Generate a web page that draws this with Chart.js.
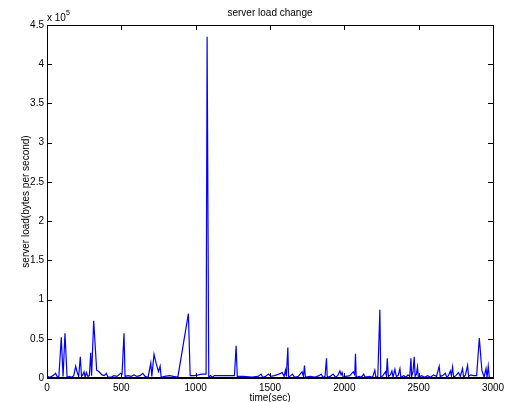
<!DOCTYPE html>
<html>
<head>
<meta charset="utf-8">
<script src="https://cdn.jsdelivr.net/npm/chart.js@4"></script>
<style>
    body { margin: 0; background: #fff; }
    #loadchart { display: block; }
</style>
</head>
<body>
<canvas id="loadchart" width="514" height="402"></canvas>
<script>
// time (sec) and server load (bytes per second)
var times = [0, 20, 40, 58, 70, 80, 96, 108, 121, 135, 150, 165, 180, 193, 205, 213, 224, 232, 240, 249,
    256, 265, 275, 285, 294, 300, 314, 334, 350, 370, 385, 399, 410, 430, 450, 470, 496, 505, 518, 525,
    545, 565, 585, 605, 625, 644, 660, 680, 698, 705, 720, 735, 750, 761, 768, 790, 825, 850, 880, 951,
    963, 990, 1018, 1040, 1070, 1077, 1088, 1100, 1113, 1126, 1180, 1261, 1272, 1280, 1320, 1380, 1420, 1440, 1450, 1470,
    1490, 1505, 1530, 1560, 1582, 1595, 1604, 1610, 1620, 1625, 1640, 1650, 1665, 1690, 1716, 1725, 1732, 1738, 1770, 1800,
    1830, 1845, 1855, 1870, 1880, 1885, 1905, 1925, 1940, 1955, 1970, 1978, 1985, 1992, 2010, 2037, 2060, 2070, 2075, 2080,
    2100, 2115, 2130, 2140, 2170, 2190, 2205, 2212, 2225, 2239, 2245, 2260, 2277, 2283, 2289, 2296, 2310, 2320, 2328, 2340,
    2350, 2362, 2374, 2380, 2400, 2415, 2428, 2440, 2448, 2453, 2462, 2470, 2476, 2485, 2492, 2498, 2520, 2540, 2560, 2580,
    2600, 2620, 2638, 2645, 2660, 2680, 2688, 2700, 2713, 2720, 2728, 2735, 2750, 2768, 2780, 2795, 2802, 2815, 2829, 2836,
    2850, 2870, 2890, 2908, 2925, 2940, 2953, 2960, 2968, 2975, 2985];
var loads = [2000, 1000, 3000, 6000, 1000, 2000, 52000, 2000, 57000, 1000, 2000, 1000, 3000, 15000, 6000, 2000, 27000, 2000, 4000, 8000,
    1000, 7000, 2000, 3000, 32000, 3000, 73000, 10000, 8000, 4000, 3000, 6000, 1000, 1000, 3000, 2000, 6000, 5000, 57000, 2000,
    3000, 2000, 4000, 2000, 3000, 6000, 2000, 1000, 19000, 2000, 30000, 18000, 8000, 15000, 1000, 2000, 3000, 2000, 1000, 82000,
    3000, 3000, 4000, 5000, 5000, 435000, 1000, 3000, 1000, 3000, 3000, 3000, 41000, 2000, 2000, 1000, 2000, 5000, 1000, 2000,
    5000, 2000, 3000, 5000, 7000, 2000, 10000, 2000, 39000, 1000, 3000, 5000, 1000, 2000, 8000, 2000, 16000, 1000, 2000, 1000,
    3000, 5000, 1000, 2000, 25000, 1000, 2000, 5000, 1000, 3000, 9000, 4000, 7000, 1000, 2000, 3000, 8000, 4000, 31000, 1000,
    2000, 1000, 5000, 1000, 2000, 1000, 10000, 1000, 2000, 87000, 1000, 3000, 8000, 3000, 25000, 2000, 4000, 9000, 1000, 11000,
    2000, 3000, 12000, 1000, 3000, 1000, 4000, 2000, 25000, 2000, 8000, 27000, 2000, 5000, 14000, 1000, 3000, 1000, 3000, 1000,
    4000, 2000, 15000, 2000, 3000, 6000, 1000, 3000, 9000, 3000, 14000, 1000, 3000, 7000, 2000, 12000, 1000, 4000, 16000, 2000,
    4000, 3000, 3000, 51000, 10000, 1000, 12000, 1000, 15000, 1000, 0];
var xTicks = [0, 500, 1000, 1500, 2000, 2500, 3000];
var yTicks = [0, 50000, 100000, 150000, 200000, 250000, 300000, 350000, 400000, 450000];

var FONT = 'Liberation Sans, Arial, Helvetica, sans-serif';

// MATLAB style box, inward ticks and labels
var matlabBox = {
    id: 'matlabBox',
    afterDraw: function (chart) {
        var ctx = chart.ctx;
        var a = chart.chartArea;
        var xs = chart.scales.x, ys = chart.scales.y;
        ctx.save();
        ctx.strokeStyle = '#000';
        ctx.lineWidth = 1;
        ctx.strokeRect(Math.round(a.left) + 0.5, Math.round(a.top) + 0.5, Math.round(a.right - a.left), Math.round(a.bottom - a.top));
        ctx.beginPath();
        xTicks.forEach(function (v) {
            var px = Math.round(xs.getPixelForValue(v)) + 0.5;
            ctx.moveTo(px, a.bottom); ctx.lineTo(px, a.bottom - 5);
            ctx.moveTo(px, a.top); ctx.lineTo(px, a.top + 5);
        });
        yTicks.forEach(function (v) {
            var py = Math.round(ys.getPixelForValue(v)) + 0.5;
            ctx.moveTo(a.left, py); ctx.lineTo(a.left + 5, py);
            ctx.moveTo(a.right, py); ctx.lineTo(a.right - 5, py);
        });
        ctx.stroke();
        // thicker baseline like the reference
        ctx.lineWidth = 2;
        ctx.beginPath();
        ctx.moveTo(a.left, a.bottom); ctx.lineTo(a.right, a.bottom);
        ctx.stroke();

        ctx.fillStyle = '#000';
        ctx.font = '10px ' + FONT;
        ctx.textAlign = 'center';
        ctx.textBaseline = 'alphabetic';
        ctx.fillText('server load change', (a.left + a.right) / 2, 16);
        ctx.fillText('time(sec)', (a.left + a.right) / 2, 401);
        ctx.textAlign = 'left';
        ctx.fillText('x 10', a.left, 21);
        ctx.font = '7px ' + FONT;
        ctx.fillText('5', a.left + 19, 15);
        ctx.font = '10px ' + FONT;
        ctx.translate(29, (a.top + a.bottom) / 2);
        ctx.rotate(-Math.PI / 2);
        ctx.textAlign = 'center';
        ctx.fillText('server load(bytes per second)', 0, 0);
        ctx.restore();
    }
};

var chart1 = document.getElementById('loadchart');
var myChart1 = new Chart(chart1, {
    type: 'line',
    data: {
        datasets: [{
            data: times.map(function (t, i) { return { x: t, y: loads[i] }; }),
            borderColor: '#0000ff',
            borderWidth: 1.2,
            pointRadius: 0,
            tension: 0,
            fill: false
        }]
    },
    options: {
        responsive: false,
        animation: false,
        layout: {
            padding: { top: 25, right: 21, left: 0, bottom: 0 }
        },
        scales: {
            x: {
                type: 'linear',
                min: 0,
                max: 3000,
                grid: { display: false, drawTicks: false },
                border: { display: false },
                ticks: {
                    stepSize: 500,
                    padding: 4,
                    color: '#000',
                    font: { family: FONT, size: 10 },
                    maxRotation: 0,
                    callback: function (v) { return String(v); }
                },
                afterFit: function (scale) { scale.height = 24; }
            },
            y: {
                min: 0,
                max: 450000,
                grid: { display: false, drawTicks: false },
                border: { display: false },
                ticks: {
                    stepSize: 50000,
                    padding: 3,
                    color: '#000',
                    font: { family: FONT, size: 10 },
                    callback: function (v) { return String(v / 100000); }
                },
                afterFit: function (scale) { scale.width = 47; }
            }
        },
        plugins: {
            legend: { display: false },
            title: { display: false },
            tooltip: { enabled: false }
        }
    },
    plugins: [matlabBox]
});
</script>
</body>
</html>
